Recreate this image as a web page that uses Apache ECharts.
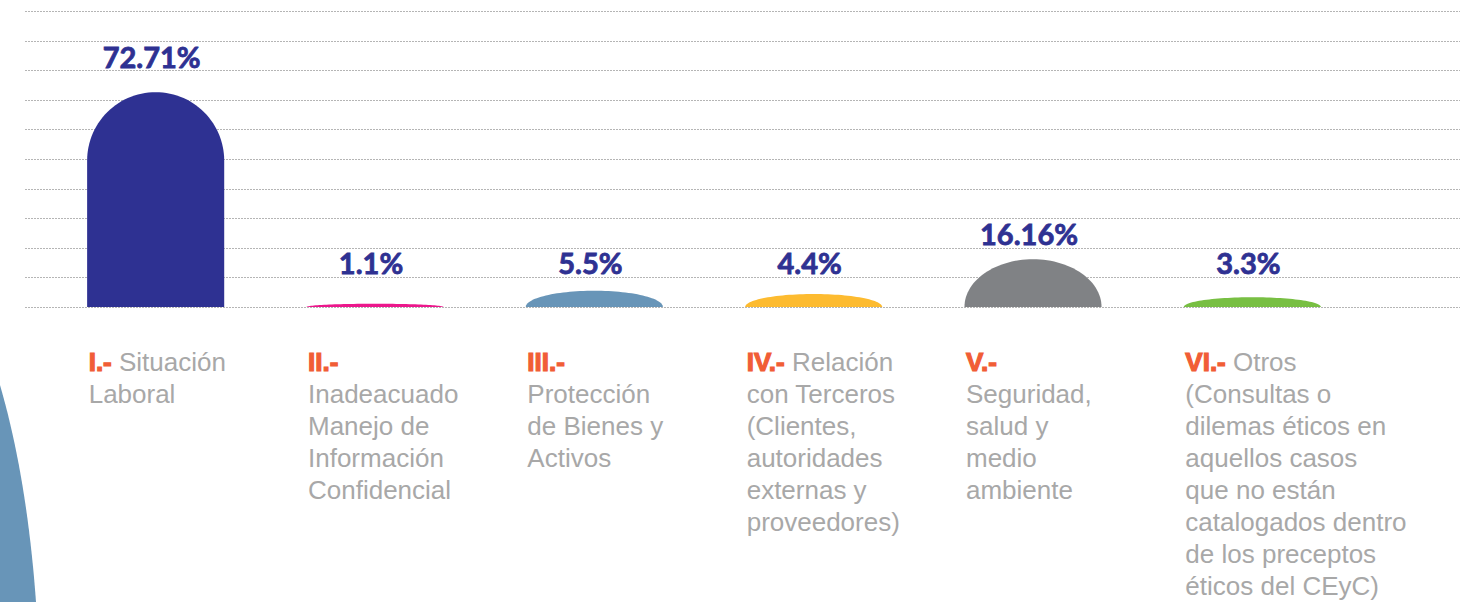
<!DOCTYPE html>
<html>
<head>
<meta charset="utf-8">
<script src="https://cdn.jsdelivr.net/npm/echarts@6/dist/echarts.min.js"></script>
<style>
html, body { margin: 0; padding: 0; background: #fff; }
#chart { width: 1483px; height: 602px; }
</style>
</head>
<body>
<div id="chart"></div>
<script>
/* datos del gráfico */
var numerals = ['I.-', 'II.-', 'III.-', 'IV.-', 'V.-', 'VI.-'];
var names = [
    ['Situación', 'Laboral'],
    ['', 'Inadeacuado', 'Manejo de', 'Información', 'Confidencial'],
    ['', 'Protección', 'de Bienes y', 'Activos'],
    ['Relación', 'con Terceros', '(Clientes,', 'autoridades', 'externas y', 'proveedores)'],
    ['', 'Seguridad,', 'salud y', 'medio', 'ambiente'],
    ['Otros', '(Consultas o', 'dilemas éticos en', 'aquellos casos', 'que no están', 'catalogados dentro', 'de los preceptos', 'éticos del CEyC)']
];
var values = [72.71, 1.1, 5.5, 4.4, 16.16, 3.3];
var valueLabels = ['72.71%', '1.1%', '5.5%', '4.4%', '16.16%', '3.3%'];
var barColors = ['#2e3192', '#ec178c', '#6895b8', '#fdbb30', '#808285', '#78bf43'];

var chart = echarts.init(document.getElementById('chart'), null, { renderer: 'svg' });

var labelFont = "'Liberation Sans', Arial, sans-serif";

function catText(i) {
    var first = names[i][0];
    var s = '{r|' + numerals[i] + '}' + (first ? ' ' + first : '');
    var rest = names[i].slice(1);
    if (rest.length) { s += '\n' + rest.join('\n'); }
    return s;
}

/* barra con tapa redondeada (media elipse) */
function renderItem(params, api) {
    var i = api.value(0), v = api.value(1);
    var base = api.coord([i, 0]);
    var top = api.coord([i, v]);
    var bw = api.size([1, 0])[0] * 0.625;
    var rx = bw / 2;
    var h = base[1] - top[1];
    var ry = Math.min(h, rx);
    var cx = base[0];
    var yc = top[1] + ry;
    var pts = [[cx - rx, base[1]], [cx - rx, yc]];
    for (var k = 1; k < 60; k++) {
        var a = Math.PI - Math.PI * k / 60;
        pts.push([cx + rx * Math.cos(a), yc - ry * Math.sin(a)]);
    }
    pts.push([cx + rx, yc], [cx + rx, base[1]]);
    // la etiqueta se apoya en la línea de la cuadrícula inmediatamente superior
    var labelY = api.coord([i, Math.ceil(v / 10) * 10])[1];
    return {
        type: 'group',
        children: [
            { type: 'polygon', shape: { points: pts }, style: { fill: barColors[i] } },
            {
                type: 'text', x: cx - 4, y: labelY,
                style: {
                    text: valueLabels[i], fill: '#2e3192', stroke: '#2e3192', lineWidth: 0.8,
                    fontSize: 29, fontWeight: 'bold', fontFamily: 'Lato, sans-serif',
                    align: 'center', textAlign: 'center', verticalAlign: 'bottom', textVerticalAlign: 'bottom'
                }
            },
            {
                type: 'text', x: cx - 67, y: base[1] + 39,
                style: {
                    text: catText(i), fill: '#a8a8a8',
                    fontSize: 26, fontFamily: labelFont, lineHeight: 32,
                    align: 'left', textAlign: 'left', verticalAlign: 'top', textVerticalAlign: 'top',
                    rich: {
                        r: {
                            fill: '#f15d36', stroke: '#f15d36', lineWidth: 1.2,
                            fontSize: 26, fontWeight: 'bold', fontFamily: labelFont, lineHeight: 32
                        }
                    }
                }
            }
        ]
    };
}

/* forma decorativa azul a la izquierda */
var decoPts = [];
for (var t = 0; t <= 1.0001; t += 0.05) {
    decoPts.push([2 * (1 - t) * t * 27 + t * t * 36, (1 - t) * (1 - t) * 385 + 2 * (1 - t) * t * 478 + t * t * 602]);
}
decoPts.push([0, 602]);

var option = {
    animation: false,
    backgroundColor: '#fff',
    grid: [
        { left: 25, right: 23, top: 11.5, bottom: 295, containLabel: false },
        { left: 46, right: 121, top: 11.5, bottom: 295, containLabel: false }
    ],
    graphic: [{
        type: 'polygon',
        shape: { points: decoPts },
        style: { fill: '#6895b8' },
        z: 0
    }],
    xAxis: [
        { gridIndex: 0, type: 'value', min: 0, max: 1, show: false },
        { gridIndex: 1, type: 'category', data: numerals, show: false }
    ],
    yAxis: [
        {
            gridIndex: 0, type: 'value', min: 0, max: 100, interval: 10,
            axisLine: { show: false }, axisTick: { show: false }, axisLabel: { show: false },
            splitLine: { show: true, lineStyle: { color: '#b5b5b5', width: 1, type: [2, 1] } }
        },
        { gridIndex: 1, type: 'value', min: 0, max: 100, interval: 10, show: false, splitLine: { show: false } }
    ],
    series: [{
        type: 'custom',
        xAxisIndex: 1,
        yAxisIndex: 1,
        clip: false,
        silent: true,
        renderItem: renderItem,
        data: values.map(function (v, i) { return [i, v]; })
    }]
};
chart.setOption(option);
</script>
</body>
</html>
